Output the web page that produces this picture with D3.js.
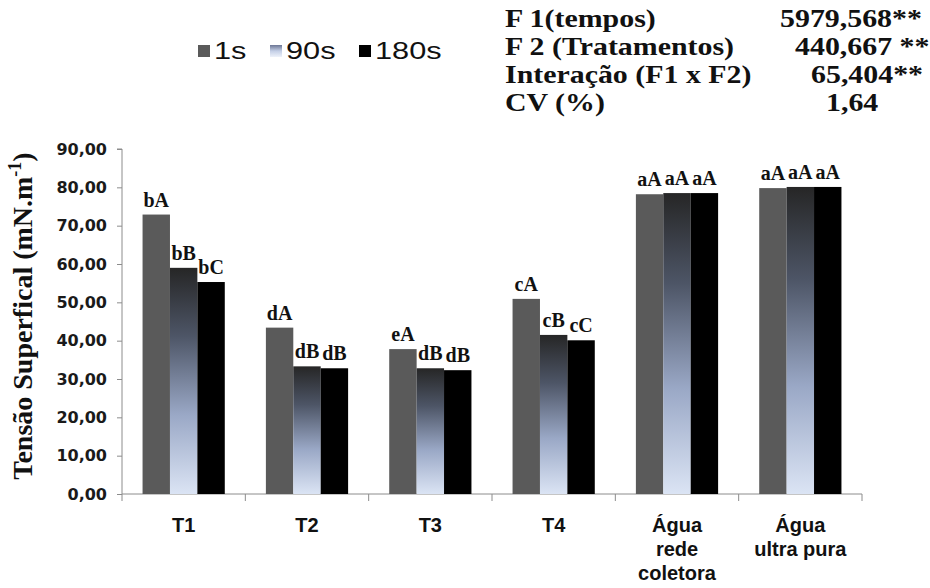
<!DOCTYPE html>
<html>
<head>
<meta charset="utf-8">
<script src="https://cdn.jsdelivr.net/npm/d3@7"></script>
<style>
  html, body { margin: 0; padding: 0; background: #fff; }
  svg { display: block; }
</style>
</head>
<body>
<svg id="chart" width="930" height="588"></svg>
<script>
// Surface tension by treatment and time
const categories = ["T1", "T2", "T3", "T4", "Água rede coletora", "Água ultra pura"];
const categoryLines = [["T1"], ["T2"], ["T3"], ["T4"], ["Água", "rede", "coletora"], ["Água", "ultra pura"]];
const seriesNames = ["1s", "90s", "180s"];
const values1s = [72.9, 43.4, 37.8, 50.9, 78.2, 79.8];
const values90s = [59.0, 33.3, 32.8, 41.5, 78.5, 80.1];
const values180s = [55.3, 32.8, 32.3, 40.1, 78.5, 80.1];
const letters1s = ["bA", "dA", "eA", "cA", "aA", "aA"];
const letters90s = ["bB", "dB", "dB", "cB", "aA", "aA"];
const letters180s = ["bC", "dB", "dB", "cC", "aA", "aA"];
const yTicks = [0, 10, 20, 30, 40, 50, 60, 70, 80, 90];
const statLabels = ["F 1(tempos)", "F 2 (Tratamentos)", "Interação (F1 x F2)", "CV (%)"];
const statValues = ["5979,568**", "440,667 **", "65,404**", "1,64"];

const seriesValues = [values1s, values90s, values180s];
const seriesLetters = [letters1s, letters90s, letters180s];

const serif = "'Liberation Serif', 'Times New Roman', serif";
const svg = d3.select("#chart");
const plot = { left: 122, right: 862, top: 149, bottom: 494 };

const x0 = d3.scaleBand().domain(categories).range([plot.left, plot.right]).paddingInner(0).paddingOuter(0);
const groupPad = x0.bandwidth() / 6;
const x1 = d3.scaleBand().domain(seriesNames)
  .range([groupPad, x0.bandwidth() - groupPad]).padding(0);
const y = d3.scaleLinear().domain([0, 90]).range([plot.bottom, plot.top]);

// horizontally widened text, anchored at (x, y)
function wideText(parent, x, yPos, sx, str) {
  return parent.append("g").attr("transform", `translate(${x},${yPos}) scale(${sx},1)`)
    .append("text").attr("x", 0).attr("y", 0).text(str);
}

// Gradients
const defs = svg.append("defs");
const g90 = defs.append("linearGradient").attr("id", "grad90")
  .attr("x1", 0).attr("y1", 0).attr("x2", 0).attr("y2", 1);
[[0, "#262626"], [0.3, "#4d5566"], [0.65, "#9aa8c6"], [1, "#dbe4f4"]]
  .forEach(([o, c]) => g90.append("stop").attr("offset", o).attr("stop-color", c));
const g90leg = defs.append("linearGradient").attr("id", "grad90leg")
  .attr("x1", 0).attr("y1", 0).attr("x2", 0).attr("y2", 1);
[[0, "#6c7694"], [0.5, "#c4cfe6"], [1, "#eef2fa"]]
  .forEach(([o, c]) => g90leg.append("stop").attr("offset", o).attr("stop-color", c));

const fills = ["#5a5a5a", "url(#grad90)", "#000000"];
const legendFills = ["#5a5a5a", "url(#grad90leg)", "#000000"];

// Y axis
const yAxis = d3.axisLeft(y).tickValues(yTicks).tickSize(5).tickPadding(10)
  .tickFormat(d => d3.format(".2f")(d).replace(".", ","));
const yg = svg.append("g").attr("transform", `translate(${plot.left},0)`).call(yAxis);
yg.select(".domain").attr("stroke", "#8c8c8c").attr("d", `M-5,${plot.top}H0V${plot.bottom}`);
yg.selectAll(".tick line").attr("stroke", "#8c8c8c");
yg.selectAll(".tick text")
  .attr("font-family", "'DejaVu Sans', sans-serif").attr("font-weight", "bold")
  .attr("font-size", 16).attr("fill", "#1a1a1a");

// X axis
const xAxis = d3.axisBottom(x0).tickSize(0).tickFormat("");
const xg = svg.append("g").attr("transform", `translate(0,${plot.bottom})`).call(xAxis);
xg.select(".domain").attr("stroke", "#8c8c8c").attr("d", `M${plot.left},0H${plot.right}`);
const bounds = categories.map(c => x0(c)).concat([plot.right]);
xg.selectAll(".bound").data(bounds).join("line").attr("class", "bound")
  .attr("x1", d => d).attr("x2", d => d).attr("y1", 0).attr("y2", 7)
  .attr("stroke", "#8c8c8c");

// Bars and significance letters
const barG = svg.append("g");
const letterG = svg.append("g")
  .attr("font-family", serif).attr("font-weight", "bold").attr("font-size", 20)
  .attr("fill", "#111").attr("text-anchor", "middle");
categories.forEach((c, i) => {
  seriesNames.forEach((s, si) => {
    const v = seriesValues[si][i];
    barG.append("rect")
      .attr("x", x0(c) + x1(s))
      .attr("width", x1.bandwidth())
      .attr("y", y(v))
      .attr("height", plot.bottom - y(v))
      .attr("fill", fills[si]);
    wideText(letterG, x0(c) + x1(s) + x1.bandwidth() / 2, y(v) - 8, 1.0, seriesLetters[si][i]);
  });
});

// Category labels
const labelG = svg.append("g");
categories.forEach((c, i) => {
  const cx = x0(c) + x0.bandwidth() / 2;
  const t = labelG.append("text")
    .attr("x", cx).attr("y", 532)
    .attr("text-anchor", "middle")
    .attr("font-family", "'Liberation Sans Narrow', 'Arial Narrow', sans-serif")
    .attr("font-weight", "bold").attr("font-size", 20).attr("fill", "#111");
  categoryLines[i].forEach((line, li) => {
    t.append("tspan").attr("x", cx).attr("dy", li === 0 ? 0 : 24).text(line);
  });
});

// Y axis title
const yt = svg.append("text")
  .attr("transform", `translate(32,316) rotate(-90)`)
  .attr("text-anchor", "middle")
  .attr("font-family", serif)
  .attr("font-weight", "bold").attr("font-size", 28).attr("fill", "#111");
yt.append("tspan").text("Tensão Superfical (mN.m");
yt.append("tspan").attr("font-size", 18).attr("dy", -11).text("-1");
yt.append("tspan").attr("dy", 11).text(")");

// Legend
const legendX = [198, 270, 359];
const legend = svg.append("g")
  .attr("font-family", "'Liberation Sans', Arial, sans-serif")
  .attr("font-size", 24).attr("fill", "#111");
seriesNames.forEach((s, i) => {
  legend.append("rect").attr("x", legendX[i]).attr("y", 45)
    .attr("width", 12).attr("height", 12).attr("fill", legendFills[i]);
  wideText(legend, legendX[i] + 16, 59, 1.28, s);
});

// ANOVA summary
const statValueX = [780, 795, 811, 826];
const stats = svg.append("g")
  .attr("font-family", serif)
  .attr("font-weight", "bold").attr("font-size", 26).attr("fill", "#111");
statLabels.forEach((s, i) => {
  wideText(stats, 505, 27 + i * 28, 1.15, s);
  wideText(stats, statValueX[i], 27 + i * 28, 1.15, statValues[i]);
});
</script>
</body>
</html>
